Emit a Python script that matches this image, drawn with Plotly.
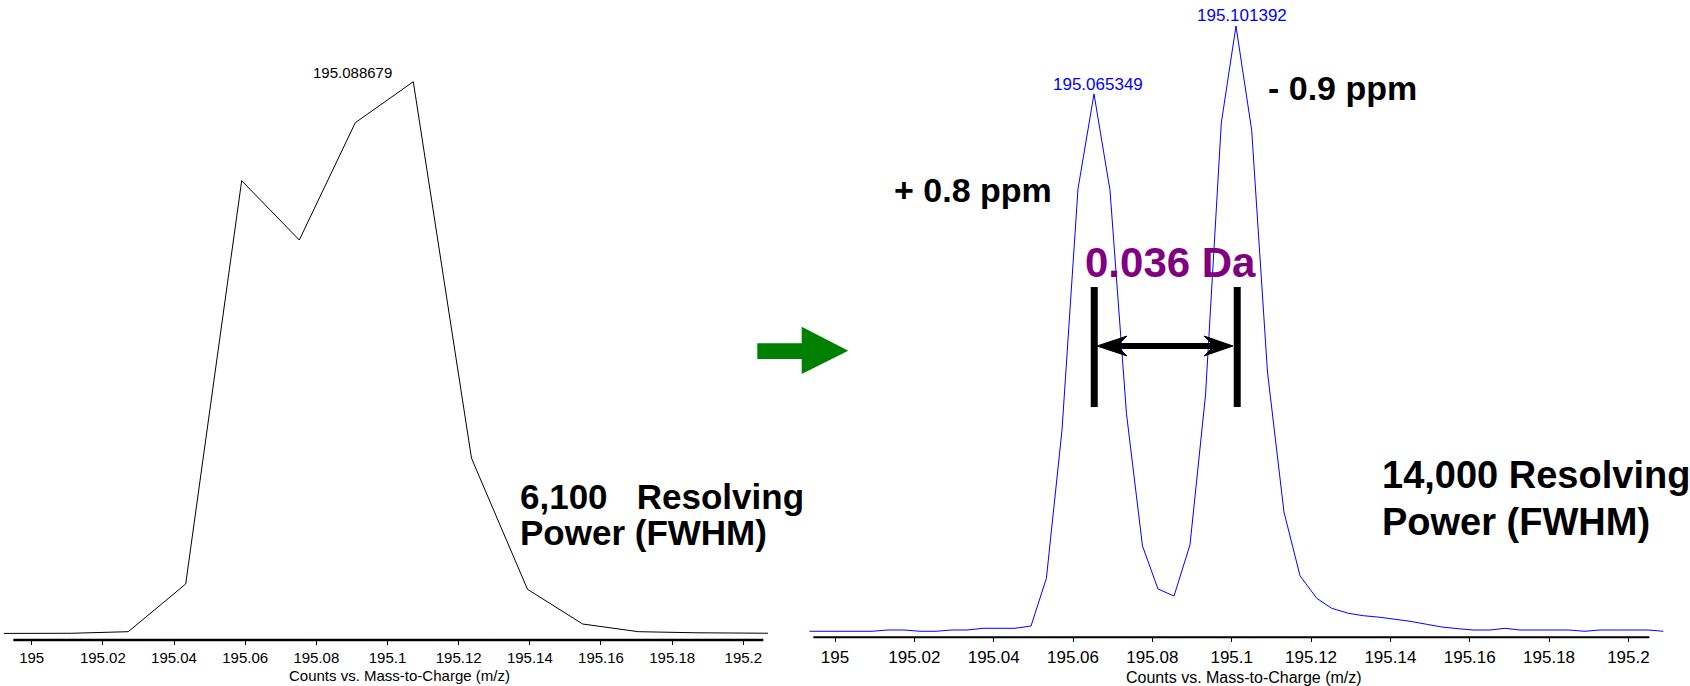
import plotly.graph_objects as go

W, H = 1690, 686

# ---- data ----
left_mz = [194.97951, 194.99539, 195.01127, 195.02715, 195.04328, 195.05902, 195.07521,
           195.09095, 195.10725, 195.12361, 195.13935, 195.15486, 195.17049, 195.18642,
           195.20216, 195.21804]
left_counts = [0.0, 0.0, 0.04, 0.33, 8.97, 82.06, 71.31, 92.57, 100.0, 31.75, 8.01, 1.72,
               0.33, 0.13, 0.04, 0.0]

right_mz = [194.99352, 194.99748, 195.00151, 195.00555, 195.00933, 195.01336, 195.01739,
            195.02143, 195.02546, 195.02949, 195.03327, 195.03731, 195.04134, 195.04537,
            195.04941, 195.05329, 195.05722, 195.06125, 195.06529, 195.06932, 195.07348,
            195.07751, 195.08142, 195.08546, 195.08949, 195.09340, 195.09738, 195.10108,
            195.10504, 195.10902, 195.11318, 195.11722, 195.12143, 195.12521, 195.12939,
            195.13317, 195.13738, 195.14116, 195.14494, 195.14916, 195.15294, 195.15712,
            195.16090, 195.16511, 195.16889, 195.17267, 195.17688, 195.18107, 195.18485,
            195.18906, 195.19284, 195.19705, 195.20083, 195.20502, 195.20880]
right_counts = [0.12, 0.12, 0.12, 0.12, 0.12, 0.33, 0.33, 0.12, 0.12, 0.33, 0.33, 0.61,
                0.61, 0.61, 0.99, 8.86, 33.3, 73.1, 88.8, 72.9, 36.0, 14.2, 7.1, 5.94,
                14.4, 39.1, 84.0, 100.0, 82.8, 42.9, 19.8, 9.29, 5.56, 3.91, 3.09, 2.69,
                2.43, 2.15, 1.77, 1.27, 0.83, 0.54, 0.33, 0.33, 0.61, 0.33, 0.33, 0.33,
                0.33, 0.12, 0.33, 0.33, 0.33, 0.33, 0.12]

tick_vals = [195.0, 195.02, 195.04, 195.06, 195.08, 195.1, 195.12, 195.14, 195.16, 195.18, 195.2]
tick_text = ["195", "195.02", "195.04", "195.06", "195.08", "195.1", "195.12", "195.14",
             "195.16", "195.18", "195.2"]

left_peak_label = "195.088679"
right_peak_labels = ["195.065349", "195.101392"]
right_peak_mz = [195.065349, 195.101392]
axis_title = "Counts vs. Mass-to-Charge (m/z)"

FONT = "Liberation Sans, Arial, sans-serif"


def X(px):
    return px / W


def Y(py):
    return 1 - py / H


fig = go.Figure()
fig.add_trace(go.Scatter(x=left_mz, y=left_counts, mode="lines",
                         line=dict(color="#000000", width=1), xaxis="x", yaxis="y",
                         hoverinfo="skip"))
fig.add_trace(go.Scatter(x=right_mz, y=right_counts, mode="lines",
                         line=dict(color="#0000FF", width=1), xaxis="x2", yaxis="y2",
                         hoverinfo="skip"))

axis_common = dict(tickmode="array", tickvals=tick_vals, ticktext=tick_text,
                   showgrid=False, zeroline=False, showline=False,
                   ticks="outside", ticklen=4, tickwidth=1, tickcolor="#000")

fig.update_layout(
    width=W, height=H, margin=dict(l=0, r=0, t=0, b=0),
    paper_bgcolor="white", plot_bgcolor="white", showlegend=False,
    xaxis=dict(domain=[X(4), X(768)], range=[194.992215, 195.206942], anchor="y",
               tickfont=dict(family=FONT, size=15, color="#000"), **axis_common),
    yaxis=dict(domain=[Y(640), Y(5)], range=[-1.178, 113.9], visible=False, anchor="x"),
    xaxis2=dict(domain=[X(809.3), X(1664)], range=[194.993522, 195.208974], anchor="y2",
                tickfont=dict(family=FONT, size=17, color="#000"), **axis_common),
    yaxis2=dict(domain=[Y(637.3), Y(5)], range=[-0.8746, 103.465], visible=False, anchor="x2"),
)

shapes = []
# axis lines
shapes.append(dict(type="line", xref="paper", yref="paper", x0=X(13.3), x1=X(763.3),
                   y0=Y(640), y1=Y(640), line=dict(color="#000", width=2.5)))
shapes.append(dict(type="line", xref="paper", yref="paper", x0=X(813.3), x1=X(1649.3),
                   y0=Y(637.3), y1=Y(637.3), line=dict(color="#000", width=2)))
# vertical bars at the two peak centroids
for mz in right_peak_mz:
    shapes.append(dict(type="line", xref="x2", yref="paper", x0=mz, x1=mz,
                       y0=Y(287), y1=Y(407), line=dict(color="#000", width=7)))
# double-headed arrow
shapes.append(dict(type="line", xref="paper", yref="paper", x0=X(1112), x1=X(1218),
                   y0=Y(346), y1=Y(346), line=dict(color="#000", width=6)))


def poly(points):
    s = "M " + " L ".join(f"{X(a):.6f},{Y(b):.6f}" for a, b in points) + " Z"
    return s


shapes.append(dict(type="path", xref="paper", yref="paper", fillcolor="#000",
                   line=dict(color="#000", width=1),
                   path=poly([(1097, 346), (1127, 336), (1117, 346), (1127, 356)])))
shapes.append(dict(type="path", xref="paper", yref="paper", fillcolor="#000",
                   line=dict(color="#000", width=1),
                   path=poly([(1233, 346), (1204, 336), (1214, 346), (1204, 356)])))
# green arrow between panels
shapes.append(dict(type="path", xref="paper", yref="paper", fillcolor="#008000",
                   line=dict(color="#008000", width=0),
                   path=poly([(757.3, 343.3), (801.7, 343.3), (801.7, 326.7), (848.3, 350.7),
                              (801.7, 374), (801.7, 359), (757.3, 359)])))
fig.update_layout(shapes=shapes)

ann = []


def text(t, x, y, size, color="#000", bold=False, xanchor="center"):
    ann.append(dict(text=f"<b>{t}</b>" if bold else t, x=X(x), y=Y(y), xref="paper",
                    yref="paper", showarrow=False, xanchor=xanchor, yanchor="middle",
                    font=dict(family=FONT, size=size, color=color)))


text(left_peak_label, 352.3, 72.7, 15)
text(right_peak_labels[0], 1097.7, 84, 17, color="#0000FF")
text(right_peak_labels[1], 1242.2, 15.7, 17, color="#0000FF")
text(axis_title, 399.5, 675, 15)
text(axis_title, 1244, 677, 16)
text("6,100\u00a0\u00a0 Resolving", 518, 496, 35, bold=True, xanchor="left")
text("Power (FWHM)", 518, 532, 35, bold=True, xanchor="left")
text("14,000 Resolving", 1380, 475, 38, bold=True, xanchor="left")
text("Power (FWHM)", 1380, 522, 38, bold=True, xanchor="left")
text("+ 0.8 ppm", 892, 190, 34, bold=True, xanchor="left")
text("- 0.9 ppm", 1266, 88, 34, bold=True, xanchor="left")
text("0.036 Da", 1083.3, 262, 42, color="#800080", bold=True, xanchor="left")
fig.update_layout(annotations=ann)

fig.write_html("out.html")
